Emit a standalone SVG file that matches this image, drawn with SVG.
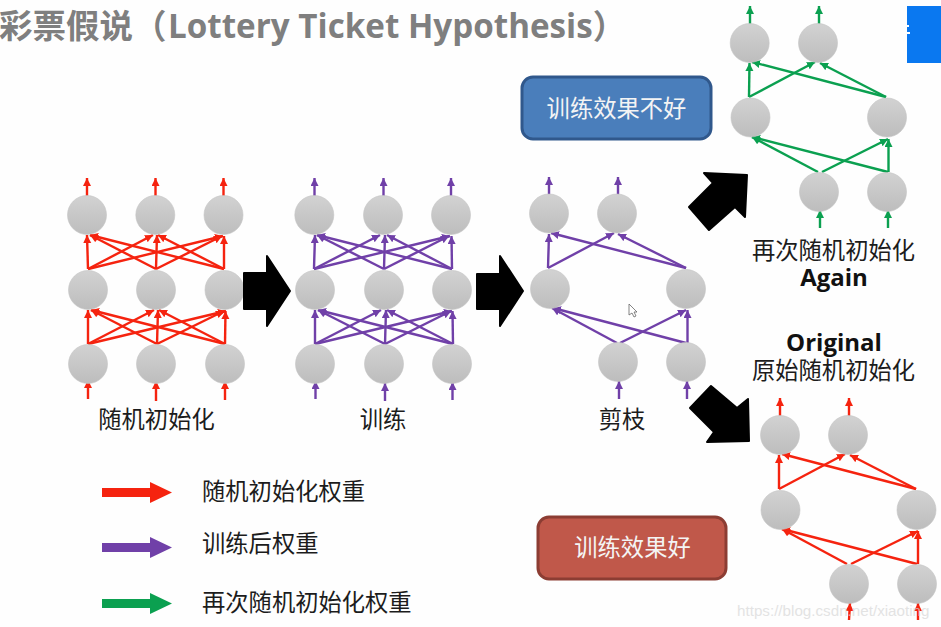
<svg xmlns="http://www.w3.org/2000/svg" width="941" height="627" viewBox="0 0 941 627">
<style>
text{font-family:"Open Sans","Noto Sans CJK SC","Noto Sans",sans-serif}
.cjk{font-family:"Noto Sans CJK SC",sans-serif;font-size:23.3px;fill:#1c1c1c;text-anchor:middle}
.leg{font-family:"Noto Sans CJK SC",sans-serif;font-size:23.3px;fill:#1c1c1c}
.en{font-family:"Open Sans",sans-serif;font-weight:700;font-size:24px;fill:#111;text-anchor:middle}
.box{font-family:"Noto Sans CJK SC",sans-serif;font-size:23.3px;fill:#f4f4f4;text-anchor:middle}
.n{fill:url(#g);stroke:#c4c4c4;stroke-width:.6}
.e{fill:none;stroke-width:2.4}
.r path{stroke:#f5230f;marker-end:url(#mr)}
.p path{stroke:#7040a8;marker-end:url(#mp)}
.v path{stroke:#0ba050;marker-end:url(#mv)}
</style>
<defs>
<linearGradient id="g" x1="0" y1="0" x2="0" y2="1"><stop offset="0" stop-color="#d2d2d2"/><stop offset="1" stop-color="#bdbdbd"/></linearGradient>
<marker id="mr" markerUnits="userSpaceOnUse" markerWidth="9" markerHeight="9" refX="8" refY="4" orient="auto"><path d="M0 0L8 4L0 8z" fill="#f5230f" style="stroke:none"/></marker>
<marker id="mp" markerUnits="userSpaceOnUse" markerWidth="9" markerHeight="9" refX="8" refY="4" orient="auto"><path d="M0 0L8 4L0 8z" fill="#7040a8" style="stroke:none"/></marker>
<marker id="mv" markerUnits="userSpaceOnUse" markerWidth="9" markerHeight="9" refX="8" refY="4" orient="auto"><path d="M0 0L8 4L0 8z" fill="#0ba050" style="stroke:none"/></marker>
</defs>
<rect width="941" height="627" fill="#fefefe"/>
<g id="title"><text y="38" font-size="33.200" font-weight="700" fill="#7f7f7f"><tspan x="-1" font-family="Noto Sans CJK SC" font-size="33.500">彩票假说（</tspan><tspan x="168">Lottery Ticket Hypothesis</tspan><tspan font-family="Noto Sans CJK SC">）</tspan></text></g>
<g id="corner"><rect x="907" y="6" width="34" height="57" fill="#0a78f0"/><path d="M907 25h2v2h-2zM907 32h3v2h-3z" fill="#fff"/></g>

<g id="connectors">
<g id="net1" class="e r">
<path d="M87 196V178"/><path d="M155.500 196V178"/><path d="M223.500 196V178"/><path d="M88 399V380"/><path d="M156 401V381"/><path d="M225 400V381"/>
<path d="M88 269L87 235"/><path d="M88 269L153 235"/><path d="M88 269L223 236"/><path d="M156 269L90 235"/><path d="M156 269L157 235"/><path d="M156 269L222 236"/><path d="M224 269L90 235"/><path d="M224 269L158 235"/><path d="M224 269L224 236"/>
<path d="M88 344L88 310"/><path d="M88 344L154 310"/><path d="M88 344L226 311"/><path d="M157 344L91 310"/><path d="M157 344L158 310"/><path d="M157 344L224 311"/><path d="M225 344L91 310"/><path d="M225 344L159 310"/><path d="M225 344L225.500 311"/>
</g>
<g id="net2" class="e p">
<path d="M314.500 196V178"/><path d="M383.500 196V178"/><path d="M451 196V178"/><path d="M315.500 399V381"/><path d="M385 401V383"/><path d="M452.500 400V382"/>
<path d="M314 269L315 235"/><path d="M314 269L380 235"/><path d="M314 269L450 236"/><path d="M384 269L317 235"/><path d="M384 269L385 235"/><path d="M384 269L449 236"/><path d="M452 269L317 235"/><path d="M452 269L387 235"/><path d="M452 269L451.500 236"/>
<path d="M315 344L315 310"/><path d="M315 344L381 310"/><path d="M315 344L452 311"/><path d="M385 344L318 310"/><path d="M385 344L386 310"/><path d="M385 344L451 311"/><path d="M453 344L318 310"/><path d="M453 344L387 310"/><path d="M453 344L452.500 311"/>
</g>
<g id="net3" class="e p">
<path d="M549 195V177"/><path d="M618 195V177"/><path d="M619 399V381"/><path d="M687 399V381"/>
<path d="M548 268L549 234"/><path d="M548 268L614 233"/><path d="M686 268L551 233"/><path d="M686 268L618 234"/>
<path d="M617 343L552 308"/><path d="M686 343L553 308"/><path d="M620 343L686 310"/><path d="M687.500 343L687.500 310"/>
</g>
<g id="net4" class="e v">
<path d="M750 24V6"/><path d="M819 24V6"/><path d="M820 228V210"/><path d="M888 228V210"/>
<path d="M749 97L749.500 63"/><path d="M749 97L815 62"/><path d="M886 97L752 62"/><path d="M886 97L820 63"/>
<path d="M818 172L752 137"/><path d="M888 172L752 137"/><path d="M822 172L888 139"/><path d="M888.500 172L888.500 139"/>
</g>
<g id="net5" class="e r">
<path d="M780 416V398"/><path d="M849 416V398"/><path d="M849 620L850 603"/><path d="M918 620V603"/>
<path d="M779 489L779 455"/><path d="M779 489L845 454"/><path d="M916 489L782 454"/><path d="M916 489L850 455"/>
<path d="M847 564L782 529"/><path d="M917 564L782 529"/><path d="M851 564L918 531"/><path d="M918 564L918 531"/>
</g>
</g>

<g id="nodes-1">
<circle id="a1" class="n" cx="87" cy="215" r="19.500"/><circle id="a2" class="n" cx="155.300" cy="215" r="19.500"/><circle id="a3" class="n" cx="223.500" cy="215" r="19.500"/>
<circle id="a4" class="n" cx="88" cy="290" r="19.500"/><circle id="a5" class="n" cx="156" cy="290" r="19.500"/><circle id="a6" class="n" cx="224.500" cy="290" r="19.500"/>
<circle id="a7" class="n" cx="88" cy="364" r="19.500"/><circle id="a8" class="n" cx="156" cy="364" r="19.500"/><circle id="a9" class="n" cx="225" cy="364" r="19.500"/>
</g>
<g id="nodes-2">
<circle id="b1" class="n" cx="314.300" cy="215" r="19.500"/><circle id="b2" class="n" cx="383" cy="215" r="19.500"/><circle id="b3" class="n" cx="451" cy="215" r="19.500"/>
<circle id="b4" class="n" cx="315" cy="290" r="19.500"/><circle id="b5" class="n" cx="384" cy="290" r="19.500"/><circle id="b6" class="n" cx="452" cy="290" r="19.500"/>
<circle id="b7" class="n" cx="315" cy="364" r="19.500"/><circle id="b8" class="n" cx="384" cy="364" r="19.500"/><circle id="b9" class="n" cx="452" cy="364" r="19.500"/>
</g>
<g id="nodes-3">
<circle id="c1" class="n" cx="549" cy="213.500" r="19.500"/><circle id="c2" class="n" cx="617" cy="213.500" r="19.500"/>
<circle id="c3" class="n" cx="550" cy="289" r="19.500"/><circle id="c4" class="n" cx="686" cy="289" r="19.500"/>
<circle id="c5" class="n" cx="618" cy="362" r="19.500"/><circle id="c6" class="n" cx="686" cy="362" r="19.500"/>
</g>
<g id="nodes-4">
<circle id="d1" class="n" cx="749.700" cy="43" r="19.500"/><circle id="d2" class="n" cx="818" cy="43" r="19.500"/>
<circle id="d3" class="n" cx="750.500" cy="117.500" r="19.500"/><circle id="d4" class="n" cx="887" cy="117.500" r="19.500"/>
<circle id="d5" class="n" cx="819" cy="192" r="19.500"/><circle id="d6" class="n" cx="887" cy="192" r="19.500"/>
</g>
<g id="nodes-5">
<circle id="e1" class="n" cx="780" cy="435" r="19.500"/><circle id="e2" class="n" cx="848" cy="435" r="19.500"/>
<circle id="e3" class="n" cx="780.500" cy="510" r="19.500"/><circle id="e4" class="n" cx="916.500" cy="510" r="19.500"/>
<circle id="e5" class="n" cx="849" cy="584" r="19.500"/><circle id="e6" class="n" cx="917" cy="584" r="19.500"/>
</g>

<g id="big-arrows" fill="#000" stroke="#000" stroke-width="2" stroke-linejoin="round">
<path d="M244 273H267V256L290 291L267 326V309H244z"/>
<path d="M477 274H500V256L523 291L500 326V309H477z"/>
<path d="M704 173L747 175L745 217L735 207L709 230L689 207L713 183z"/>
<path d="M690 408L711 386L737 408L748 399L749 441L707 442L714 432z"/>
</g>

<g id="box-bad"><rect x="522" y="77" width="189" height="62" rx="11" fill="#4a7ebb" stroke="#30588c" stroke-width="3"/><text class="box" x="616.500" y="117">训练效果不好</text></g>
<g id="box-good"><rect x="538" y="517" width="188" height="62" rx="11" fill="#c0584a" stroke="#8c3d33" stroke-width="3"/><text class="box" x="632.500" y="556">训练效果好</text></g>

<g id="labels">
<text class="cjk" x="156.500" y="428">随机初始化</text>
<text class="cjk" x="383" y="428">训练</text>
<text class="cjk" x="622" y="428">剪枝</text>
<text class="cjk" x="833.500" y="259">再次随机初始化</text>
<text class="en" x="834" y="286">Again</text>
<text class="en" x="834" y="351">Original</text>
<text class="cjk" x="833.500" y="379">原始随机初始化</text>
</g>

<g id="legend">
<path d="M102 488H150V482L172 492.500L150 503V497H102z" fill="#f5230f"/>
<path d="M102 543H150V537L172 547.500L150 558V552H102z" fill="#7040a8"/>
<path d="M102 599H150V593L172 603.500L150 614V608H102z" fill="#0ba050"/>
<text class="leg" x="202" y="500">随机初始化权重</text>
<text class="leg" x="202" y="552">训练后权重</text>
<text class="leg" x="202" y="611">再次随机初始化权重</text>
</g>

<path id="cursor" d="M629 304V315L632 313L634 317L636 316L634 312L637 312z" fill="#fff" stroke="#666" stroke-width=".8"/>
<text id="watermark" x="737" y="616" font-size="15.200" fill="#d8d8d8" opacity=".7" style="font-family:'Liberation Sans',sans-serif">https://blog.csdn.net/xiaoting</text>
</svg>
